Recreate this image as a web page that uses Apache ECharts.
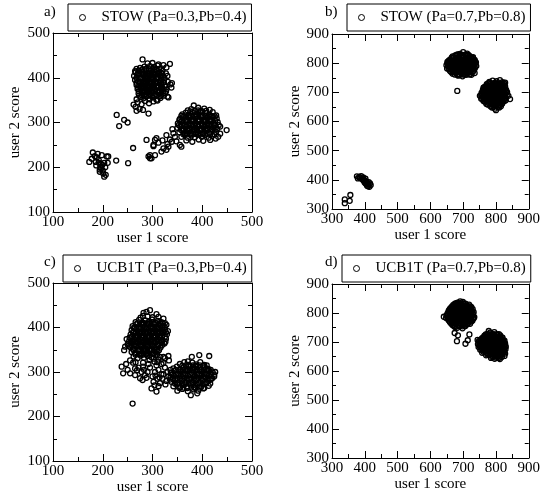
<!DOCTYPE html>
<html><head><meta charset="utf-8">
<script src="https://cdn.jsdelivr.net/npm/echarts@6/dist/echarts.min.js"></script>
<style>html,body{margin:0;padding:0;background:#fff}#c{width:543px;height:499px}</style>
</head><body><div id="c"></div>
<script>
// ---------- DATA ----------
const panelLabels = ['a)', 'b)', 'c)', 'd)'];
const seriesNames = ['STOW (Pa=0.3,Pb=0.4)', 'STOW (Pa=0.7,Pb=0.8)', 'UCB1T (Pa=0.3,Pb=0.4)', 'UCB1T (Pa=0.7,Pb=0.8)'];
const xAxisName = 'user 1 score';
const yAxisName = 'user 2 score';
const lowRange = [100, 500];   // panels a, c
const highRange = [300, 900];  // panels b, d
const tickStep = 100;

// panel a: STOW (Pa=0.3,Pb=0.4)
const stowLowUpper = [[280,441],[335,431],[300,433],[312,430],[290,432],[322,428],
[275,422],[284,425],[295,426],[303,424],[310,427],[318,421],[328,423],[268,420],
[266,412],[272,416],[279,414],[286,418],[291,411],[297,416],[303,413],[308,418],[314,412],[320,415],[327,410],[282,410],
[263,404],[270,407],[276,401],[281,406],[287,403],[292,408],[298,402],[304,406],[309,401],[315,405],[321,402],[330,404],[289,405],[300,409],
[265,395],[271,392],[277,398],[283,393],[288,397],[294,391],[299,396],[305,392],[310,398],[316,393],[323,396],[331,391],[280,390],[302,399],[291,394],
[268,384],[274,388],[279,382],[285,387],[290,381],[296,386],[301,383],[307,388],[312,382],[318,386],[325,383],[336,385],[293,389],[282,385],[339,388],
[270,375],[276,378],[281,372],[287,377],[292,371],[298,376],[303,373],[309,378],[314,372],[320,376],[328,374],[295,379],[338,378],
[272,365],[278,368],[284,362],[289,367],[295,363],[300,368],[306,364],[312,367],[318,362],[325,366],[283,369],
[268,352],[276,357],[282,354],[288,358],[294,352],[300,356],[308,351],[316,355],[330,358],[332,356],
[270,345],[278,341],[285,348],[293,343],[302,347],[310,349],
[266,335],[274,330],[281,328],[292,320],[268,326],[262,340],[265,415]];
const stowLowUpperCore = [[273,360],[279,361],[286,359],[292,361],[298,359],[304,360],[310,361],[316,359],[322,360],
[273,370],[279,369],[285,371],[291,369],[297,370],[303,369],[309,371],[315,369],[321,370],[327,369],
[271,379],[277,380],[283,379],[289,380],[295,380],[301,379],[307,380],[313,380],[319,379],[325,380],
[268,389],[274,390],[281,389],[287,390],[293,389],[299,390],[305,389],[311,390],[317,389],[323,390],
[268,400],[274,399],[280,400],[286,399],[292,400],[298,399],[304,400],[310,399],[317,400],[324,399],
[271,409],[277,410],[283,409],[289,410],[295,409],[301,410],[307,409],[313,410],[319,409],
[280,419],[287,420],[293,419],[300,420],[306,419],[313,420]];
const stowLowRight = [[383,338],[378,330],[392,333],[404,331],[371,327],[415,328],[397,326],
[360,318],[367,322],[374,317],[381,323],[388,319],[395,324],[401,316],[408,321],[414,318],[421,323],[428,316],
[355,308],[361,312],[368,306],[374,311],[380,307],[386,313],[392,308],[398,312],[404,306],[410,311],[416,307],[422,312],[429,309],[389,314],
[351,298],[357,302],[363,296],[369,301],[375,297],[381,303],[387,298],[393,302],[399,296],[405,301],[411,297],[417,303],[423,298],[431,301],[384,304],
[350,288],[356,292],[362,286],[368,291],[374,287],[380,293],[386,288],[392,292],[398,286],[404,291],[410,287],[416,293],[422,289],[430,286],[436,291],[395,295],
[354,278],[360,282],[366,276],[372,281],[378,277],[384,283],[390,278],[396,282],[402,276],[408,281],[414,277],[420,283],[428,279],[389,285],
[358,268],[365,272],[371,266],[378,271],[385,267],[392,273],[399,268],[406,272],[413,266],[420,270],[432,268],[436,275],
[368,260],[380,257],[393,262],[402,259],[416,261],[427,264],[449,283]];
const stowLowRightCore = [[362,274],[369,275],[375,274],[382,275],[388,274],[395,275],[402,274],[409,275],[416,274],[424,274],
[357,284],[363,285],[370,284],[376,285],[382,284],[393,285],[399,284],[405,285],[411,284],[418,285],[425,284],
[353,294],[359,295],[366,294],[372,295],[378,294],[384,295],[390,294],[401,295],[407,294],[413,295],[419,294],[426,295],[433,294],
[354,305],[360,304],[366,305],[372,304],[378,305],[395,305],[401,304],[407,305],[413,304],[419,305],[426,304],
[358,315],[364,314],[371,315],[377,314],[383,315],[395,315],[401,314],[407,315],[413,314],[419,315],[425,314],
[376,325],[385,326],[392,327],[400,325],[408,326]];
const stowLowTail = [[302,250],[305,227],[322,242],[332,246],[339,257],[308,265],[328,272],[342,276],[355,250],[358,246],
[295,220],[318,235],[328,239],[288,261],[302,247],[305,261],[295,227],[298,220],[292,224],[335,262],[345,268],[340,285],
[320,260],[348,258],[312,255],[330,252]];
const stowLowSmall = [[173,212],[180,233],[186,212],[190,230],[198,227],[208,224],[211,224],[203,210],[194,190],[194,195],
[195,201],[197,198],[201,186],[206,183],[203,179],[188,222],[192,216],[199,205],[196,208],[210,210],[184,225],[200,193],
[187,204],[205,200],[178,219],[192,210]];
const stowLowScatter = [[227,215],[251,209],[261,243],[233,292],[250,300],[228,317],[243,306]];

// panel b: STOW (Pa=0.7,Pb=0.8)
const stowHighUpper = [[700,838],[690,832],[712,833],[683,830],
[668,823],[676,827],[685,821],[694,826],[702,822],[711,827],[720,824],[730,821],
[660,812],[668,817],[675,811],[683,816],[690,813],[697,818],[705,812],[712,817],[719,813],[727,816],[735,811],
[652,804],[660,808],[667,802],[674,807],[681,803],[688,808],[695,802],[702,807],[709,803],[716,808],[723,802],[731,806],[739,803],
[649,793],[656,797],[663,791],[670,796],[677,792],[684,798],[691,793],[698,797],[705,791],[712,796],[719,792],[726,798],[733,794],[740,790],
[651,782],[658,787],[665,781],[672,786],[679,783],[686,788],[693,782],[700,787],[707,783],[714,788],[721,781],[728,786],[736,784],
[660,773],[667,778],[674,772],[681,777],[688,771],[695,776],[702,772],[709,777],[716,771],[723,776],[731,774],
[668,764],[677,768],[686,762],[695,766],[704,761],[713,767],[722,763],[735,766],
[685,757],[698,755],[725,760],[682,705]];
const stowHighUpperCore = [[680,828],[689,829],[698,828],[707,829],[716,828],
[665,819],[672,820],[680,818],[687,819],[694,820],[701,818],[708,820],[716,819],[723,818],[730,818],
[656,809],[663,810],[671,809],[678,810],[685,809],[692,810],[699,809],[706,810],[713,809],[720,810],[727,809],[735,809],
[652,799],[660,800],[667,799],[674,800],[681,799],[688,800],[695,799],[702,800],[709,799],[716,800],[723,799],[730,800],[737,799],
[654,789],[661,790],[668,789],[675,790],[682,789],[689,790],[696,789],[703,790],[710,789],[717,790],[724,789],[731,790],
[656,779],[663,780],[670,779],[677,780],[684,779],[691,780],[698,779],[705,780],[712,779],[719,780],[726,779],[734,779],
[664,769],[671,770],[679,769],[686,770],[693,769],[700,770],[707,769],[714,770],[721,769],[729,770],
[674,761],[682,760],[691,760],[700,761],[709,760],[718,761]];
const stowHighLower = [[790,740],[802,738],[812,742],[780,736],[820,735],
[772,728],[781,733],[789,727],[797,732],[805,726],[813,731],[821,728],[828,733],
[765,718],[772,723],[779,717],[786,722],[793,716],[800,721],[807,717],[814,722],[821,716],[828,720],[762,716],
[760,708],[767,712],[774,706],[781,711],[788,707],[795,712],[802,706],[809,711],[816,707],[823,712],[831,708],
[756,698],[763,702],[770,696],[777,701],[784,697],[791,702],[798,696],[805,701],[812,697],[819,703],[826,698],[834,701],
[751,688],[758,692],[765,686],[772,691],[779,687],[786,692],[793,686],[800,691],[807,687],[814,692],[821,686],[828,690],[838,688],
[755,678],[762,682],[769,676],[776,681],[783,677],[790,682],[797,676],[804,681],[811,677],[818,682],[825,678],[843,677],
[766,668],[773,672],[780,666],[787,671],[794,667],[801,672],[808,666],[815,671],[822,668],[830,673],
[775,658],[784,662],[792,656],[801,661],[810,657],[819,663],
[788,648],[797,644],[806,650],[800,639],[815,652]];
const stowHighLowerCore = [[776,731],[785,730],[793,731],[801,730],[809,731],[817,730],[825,731],
[768,720],[775,721],[782,720],[789,721],[796,720],[803,721],[810,720],[817,721],[824,720],
[763,710],[770,711],[777,710],[784,711],[791,710],[798,711],[805,710],[812,711],[819,710],[827,710],
[759,700],[766,701],[773,700],[780,701],[787,700],[794,701],[801,700],[808,701],[815,700],[822,701],[830,700],
[755,690],[762,691],[769,690],[776,691],[783,690],[790,691],[797,690],[804,691],[811,690],[818,691],[825,690],[833,690],
[758,680],[765,681],[772,680],[779,681],[786,680],[793,681],[800,680],[807,681],[814,680],[821,681],[829,680],
[762,670],[769,671],[776,670],[783,671],[790,670],[797,671],[804,670],[811,671],[818,670],[826,670],
[771,660],[779,661],[787,660],[795,661],[803,660],[811,661],[818,660],
[783,652],[792,650],[801,652],[810,648]];
const stowHighSmall = [[379,405],[389,413],[399,399],[409,388],[414,376],[376,412],[383,410],[395,408],[392,402],[402,404],
[405,395],[400,390],[411,384],[407,380],[416,388],[397,396],[385,406],[412,392],[404,386],[418,382],[410,378],
[339,333],[339,320],[356,348],[354,328]];

// panel c: UCB1T (Pa=0.3,Pb=0.4)
const ucbLowUpper = [[295,439],[288,435],[308,430],[282,433],
[276,422],[281,426],[322,420],[290,425],[300,423],[312,424],
[266,412],[273,417],[280,411],[286,416],[293,413],[299,418],[305,411],[311,415],[318,412],[325,410],
[260,403],[267,407],[273,401],[279,406],[285,402],[291,408],[297,403],[303,407],[309,401],[315,405],[322,402],[328,406],
[258,394],[264,398],[270,392],[276,397],[282,391],[288,396],[294,392],[300,398],[306,393],[312,397],[318,391],[325,395],[331,392],
[256,384],[262,388],[268,382],[274,387],[280,383],[286,388],[292,381],[298,386],[304,382],[310,387],[316,383],[322,388],[329,385],
[248,374],[254,377],[260,371],[266,376],[272,372],[278,377],[284,371],[290,376],[296,372],[302,378],[308,373],[314,377],[320,371],[327,375],
[250,362],[257,366],[263,361],[269,367],[275,362],[281,368],[287,363],[293,367],[299,361],[305,366],[311,362],[317,368],[324,364],
[243,349],[255,356],[261,352],[267,358],[273,351],[279,357],[285,353],[291,358],[297,352],[303,356],[309,351],[316,355],
[258,345],[265,342],[271,347],[278,341],[284,346],[290,343],[296,348],[303,341],[310,346],[245,357],
[262,335],[270,331],[276,337],[283,332],[290,336],[298,333],[306,338],[315,334],[325,331],[332,336],
[255,326],[266,322],[281,321],[294,327],[304,323],[312,328],[322,320]];
const ucbLowUpperCore = [[270,410],[277,409],[283,410],[289,409],[296,410],[302,409],[308,410],[315,409],[321,410],
[263,400],[270,399],[276,400],[282,399],[288,400],[294,399],[300,400],[306,399],[312,400],[319,399],[325,400],
[261,390],[267,389],[273,390],[279,389],[285,390],[291,389],[297,390],[303,389],[309,390],[315,389],[321,390],[327,389],
[259,380],[265,379],[271,380],[277,379],[283,380],[289,379],[295,380],[301,379],[307,380],[313,379],[319,380],[325,379],
[253,369],[259,368],[265,369],[271,368],[277,369],[283,368],[289,369],[295,368],[301,369],[307,368],[313,369],[319,367],[326,368],
[252,359],[258,360],[264,359],[270,360],[276,359],[282,360],[288,359],[294,360],[300,359],[306,360],[312,359],[319,360],
[262,349],[268,350],[274,349],[281,350],[287,349],[293,350],[299,349],[306,350],[313,349],
[266,339],[273,340],[280,339],[287,340],[294,339],[301,340],[309,339]];
const ucbLowBridge = [[238,312],[241,297],[255,297],[265,293],[275,286],[280,282],[269,304],[261,321],[281,312],[285,293],
[298,263],[308,256],[302,278],[315,275],[260,229],[247,318],[272,310],[290,300],[295,310],[300,290],[305,300],[310,285],
[288,287],[278,300],[265,308],[250,305],[292,318],[312,305],[318,295],[320,285],[308,315],[283,305],
[302,330],[310,322],[318,318],[325,310],[330,300],[306,292],[314,288],[322,295],[328,280],[332,290],[336,305],
[304,270],[312,268],[326,272],[333,326],[322,334]];
const ucbLowRight = [[379,334],[394,338],[414,336],
[355,318],[364,322],[372,316],[380,321],[388,317],[396,322],[404,316],[371,324],
[342,308],[349,312],[356,306],[363,311],[370,307],[377,313],[384,308],[391,312],[398,306],[405,311],[412,307],
[337,298],[344,302],[351,296],[358,301],[365,297],[372,303],[379,298],[386,302],[393,296],[400,301],[407,297],[414,303],[421,299],[426,300],
[336,288],[343,292],[350,286],[357,291],[364,287],[371,292],[378,286],[385,291],[392,287],[399,293],[406,288],[413,292],[420,286],[424,290],
[338,278],[345,282],[352,276],[359,281],[366,277],[373,283],[380,278],[387,282],[394,276],[401,281],[408,277],[415,282],[335,283],
[342,268],[349,272],[356,266],[363,271],[370,267],[377,272],[384,266],[391,271],[398,267],[405,273],[413,269],
[350,258],[360,262],[371,257],[382,261],[392,258],[402,263],
[377,248],[390,252]];
const ucbLowRightCore = [[360,314],[367,315],[374,314],[381,315],[388,314],[395,315],[402,314],[409,315],
[347,305],[354,304],[361,305],[368,304],[375,305],[382,304],[389,305],[396,304],[403,305],[410,304],[417,305],
[340,294],[347,295],[354,294],[361,295],[368,294],[375,295],[382,294],[389,295],[396,294],[403,295],[410,294],[417,295],[424,294],
[341,285],[348,284],[355,285],[362,284],[369,285],[376,284],[383,285],[390,284],[397,285],[404,284],[411,285],[418,284],
[345,274],[352,275],[359,274],[366,275],[373,274],[380,275],[387,274],[394,275],[401,274],[408,275],[416,274],
[354,264],[362,265],[370,264],[378,265],[386,264],[395,265],[404,264]];

// panel d: UCB1T (Pa=0.7,Pb=0.8)
const ucbHighUpper = [[683,836],[691,840],[678,833],[699,838],
[670,828],[678,826],[686,830],[694,827],[702,831],[710,826],[718,829],
[662,818],[669,822],[676,816],[683,821],[690,817],[697,822],[704,816],[711,821],[718,817],[725,820],
[656,808],[663,812],[670,806],[677,811],[684,807],[691,812],[698,806],[705,811],[712,807],[719,812],[726,808],
[652,798],[659,802],[666,796],[673,801],[680,797],[687,802],[694,796],[701,801],[708,797],[715,802],[722,798],[729,800],
[641,787],[649,791],[656,786],[663,790],[670,785],[677,792],[684,787],[691,791],[698,785],[705,790],[712,786],[719,792],[726,788],[734,786],
[654,778],[661,782],[668,776],[675,781],[682,777],[689,783],[696,778],[703,782],[710,776],[717,781],[724,777],[731,780],
[660,768],[667,772],[674,766],[681,771],[688,767],[695,772],[702,766],[709,771],[716,768],[724,770],
[668,758],[677,762],[686,757],[695,761],[704,756],[713,762],
[682,749],[698,747],[675,752]];
const ucbHighUpperCore = [[675,832],[683,833],[691,832],[699,833],[707,832],
[666,823],[673,824],[680,823],[687,824],[694,823],[701,824],[708,823],[715,824],[722,823],
[659,813],[666,814],[673,813],[680,814],[687,813],[694,814],[701,813],[708,814],[715,813],[722,814],[729,813],
[655,803],[662,804],[669,803],[676,804],[683,803],[690,804],[697,803],[704,804],[711,803],[718,804],[725,803],[732,803],
[652,793],[659,794],[666,793],[673,794],[680,793],[687,794],[694,793],[701,794],[708,793],[715,794],[722,793],[730,794],
[648,783],[655,784],[662,783],[669,784],[676,783],[683,784],[690,783],[697,784],[704,783],[711,784],[718,783],[725,784],[732,783],
[657,773],[664,774],[671,773],[678,774],[685,773],[692,774],[699,773],[706,774],[713,773],[720,774],[728,773],
[664,763],[671,764],[679,763],[686,764],[693,763],[700,764],[707,763],[714,764],[721,763],
[672,755],[680,754],[689,755],[698,754],[707,755]];
const ucbHighStray = [[674,731],[684,723],[681,703],[707,694],[719,726],[714,706]];
const ucbHighLower = [[778,738],[782,732],[795,734],
[765,722],[773,727],[781,721],[789,726],[797,722],[805,725],[813,723],
[757,712],[764,716],[771,711],[778,717],[785,712],[792,716],[799,711],[806,717],[813,712],[820,715],
[748,703],[755,707],[762,701],[769,706],[776,702],[783,708],[790,703],[797,707],[804,701],[811,706],[818,702],[826,705],[744,707],
[745,693],[752,697],[759,691],[766,696],[773,692],[780,698],[787,693],[794,697],[801,691],[808,696],[815,692],[822,698],[828,694],
[747,683],[754,687],[761,681],[768,686],[775,682],[782,688],[789,683],[796,687],[803,681],[810,686],[817,682],[824,688],[830,684],
[752,673],[759,677],[766,671],[773,676],[780,672],[787,678],[794,673],[801,677],[808,671],[815,676],[822,672],[829,675],
[758,663],[766,667],[774,661],[782,666],[790,662],[798,667],[806,661],[814,666],[822,663],[828,660],
[770,654],[780,657],[790,652],[800,656],[810,653],[820,658],[826,652],
[785,645],[796,642],[805,647],[812,641],[818,648]];
const ucbHighLowerCore = [[769,726],[777,727],[785,726],[793,727],[801,726],[809,727],
[761,716],[768,717],[775,716],[782,717],[789,716],[796,717],[803,716],[810,717],[817,716],
[752,706],[759,707],[766,706],[773,707],[780,706],[787,707],[794,706],[801,707],[808,706],[815,707],[822,706],
[749,696],[756,697],[763,696],[770,697],[777,696],[784,697],[791,696],[798,697],[805,696],[812,697],[819,696],[826,697],
[750,686],[757,687],[764,686],[771,687],[778,686],[785,687],[792,686],[799,687],[806,686],[813,687],[820,686],[827,687],
[755,676],[762,677],[769,676],[776,677],[783,676],[790,677],[797,676],[804,677],[811,676],[818,677],[825,676],
[762,666],[770,667],[778,666],[786,667],[794,666],[802,667],[810,666],[818,667],[825,666],
[774,657],[783,656],[792,657],[801,656],[810,657],[818,656],
[789,647],[800,646],[809,645]];

const panelData = [
  stowLowUpper.concat(stowLowUpperCore, stowLowRight, stowLowRightCore, stowLowTail, stowLowSmall, stowLowScatter),
  stowHighUpper.concat(stowHighUpperCore, stowHighLower, stowHighLowerCore, stowHighSmall),
  ucbLowUpper.concat(ucbLowUpperCore, ucbLowBridge, ucbLowRight, ucbLowRightCore),
  ucbHighUpper.concat(ucbHighUpperCore, ucbHighStray, ucbHighLower, ucbHighLowerCore)
];
const panelRanges = [lowRange, highRange, lowRange, highRange];

// ---------- LAYOUT ----------
const SERIF = '"Liberation Serif","Times New Roman",serif';
const grids = [
  {left: 53, top: 33, width: 199, height: 179},
  {left: 332, top: 34, width: 200, height: 175},
  {left: 53, top: 283, width: 199, height: 178},
  {left: 332, top: 284, width: 200, height: 174}
];
const legendPos = [
  {left: 68, top: 4}, {left: 347, top: 4}, {left: 63, top: 255}, {left: 342, top: 255}
];
const labelPos = [
  {left: 44, top: 5}, {left: 325, top: 5}, {left: 44, top: 255}, {left: 325, top: 255}
];
const yNameGap = [30, 27, 30, 27];
const xNameGap = [17, 17, 14, 14];

const black = '#000';
function axisCommon(range, show) {
  return {
    type: 'value', min: range[0], max: range[1], interval: tickStep,
    axisLine: {show: true, onZero: false, lineStyle: {color: black, width: 1}},
    axisTick: {show: true, inside: true, length: 7, lineStyle: {color: black, width: 1}},
    minorTick: {show: true, splitNumber: 2, length: 4, lineStyle: {color: black, width: 1}},
    splitLine: {show: false}, minorSplitLine: {show: false},
    axisLabel: {show: show, color: black, fontFamily: SERIF, fontSize: 15, margin: 3},
    silent: true
  };
}

const xAxes = [], yAxes = [], series = [], legends = [], titles = [];
for (let i = 0; i < 4; i++) {
  const r = panelRanges[i];
  xAxes.push(Object.assign(axisCommon(r, true), {
    gridIndex: i, position: 'bottom', name: xAxisName, nameLocation: 'middle', nameGap: xNameGap[i],
    nameTextStyle: {color: black, fontFamily: SERIF, fontSize: 15}
  }));
  xAxes.push(Object.assign(axisCommon(r, false), {gridIndex: i, position: 'top'}));
  yAxes.push(Object.assign(axisCommon(r, true), {
    gridIndex: i, position: 'left', name: yAxisName, nameLocation: 'middle', nameGap: yNameGap[i],
    nameTextStyle: {color: black, fontFamily: SERIF, fontSize: 15}
  }));
  yAxes.push(Object.assign(axisCommon(r, false), {gridIndex: i, position: 'right'}));
  series.push({
    type: 'scatter', name: seriesNames[i], xAxisIndex: 2 * i, yAxisIndex: 2 * i,
    data: panelData[i], symbol: 'circle', symbolSize: 5,
    itemStyle: {color: 'rgba(0,0,0,0)', borderColor: black, borderWidth: 1.3, opacity: 1},
    emphasis: {disabled: true}, silent: true, large: false
  });
  legends.push(Object.assign({}, legendPos[i], {
    data: [seriesNames[i]], icon: 'circle', itemWidth: 6, itemHeight: 6,
    itemStyle: {color: 'rgba(0,0,0,0)', borderColor: black, borderWidth: 1},
    padding: [6, 5, 6, 11],
    borderColor: black, borderWidth: 1, borderRadius: 0,
    textStyle: {color: black, fontFamily: SERIF, fontSize: 15, padding: [0, 0, 0, 11]},
    selectedMode: false
  }));
  titles.push(Object.assign({}, labelPos[i], {
    text: panelLabels[i], padding: 0,
    textStyle: {color: black, fontFamily: SERIF, fontSize: 15, fontWeight: 'normal'}
  }));
}

const chart = echarts.init(document.getElementById('c'), null, {renderer: 'canvas'});
chart.setOption({
  animation: false, backgroundColor: '#fff',
  title: titles, legend: legends, grid: grids,
  xAxis: xAxes, yAxis: yAxes, series: series
});
</script></body></html>
